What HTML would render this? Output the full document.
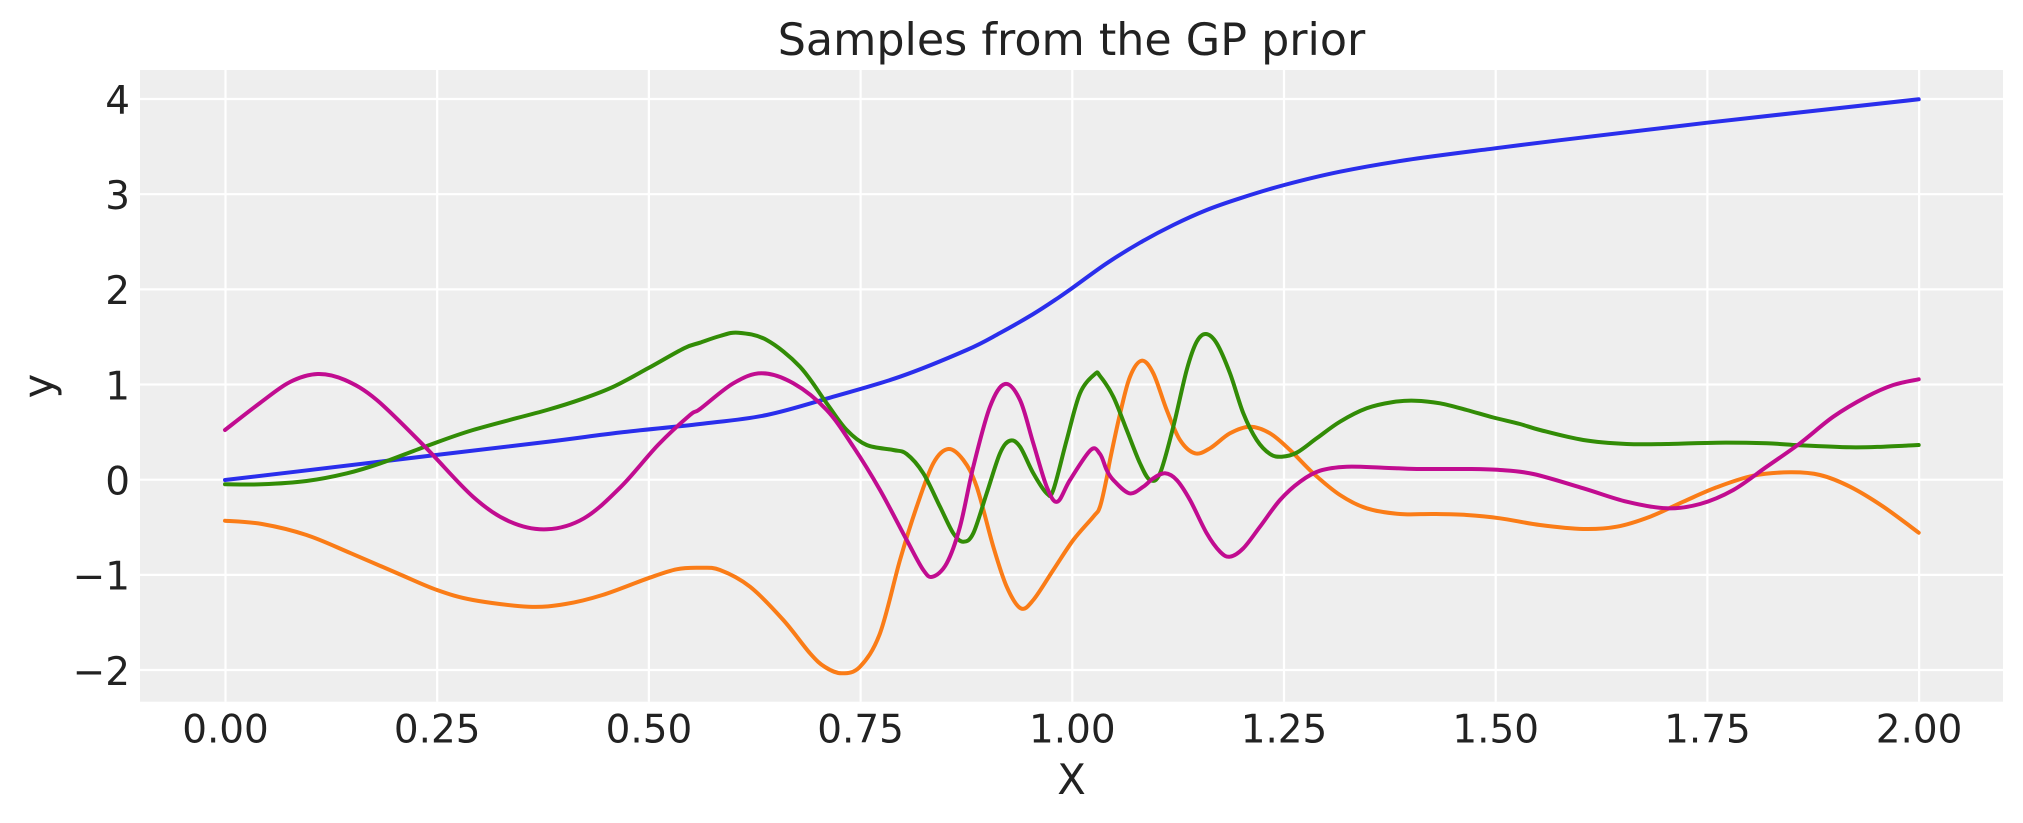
<!DOCTYPE html>
<html>
<head>
<meta charset="utf-8">
<style>
  html, body { margin:0; padding:0; background:#ffffff; }
  svg { display:block; }
  text { font-family: "DejaVu Sans", "Liberation Sans", sans-serif; fill:#222222; }
</style>
</head>
<body>
<svg id="chart" width="2023" height="823" viewBox="0 0 2023 823" xmlns="http://www.w3.org/2000/svg">
  <rect x="0" y="0" width="2023" height="823" fill="#ffffff"/>
  <!-- plot area -->
  <rect x="140" y="70" width="1863" height="631.7" fill="#eeeeee"/>
  <!-- grid -->
  <g stroke="#ffffff" stroke-width="2.2">
    <line x1="225.5" y1="70" x2="225.5" y2="701.7"/>
    <line x1="437.2" y1="70" x2="437.2" y2="701.7"/>
    <line x1="648.9" y1="70" x2="648.9" y2="701.7"/>
    <line x1="860.6" y1="70" x2="860.6" y2="701.7"/>
    <line x1="1072.3" y1="70" x2="1072.3" y2="701.7"/>
    <line x1="1284.0" y1="70" x2="1284.0" y2="701.7"/>
    <line x1="1495.7" y1="70" x2="1495.7" y2="701.7"/>
    <line x1="1707.4" y1="70" x2="1707.4" y2="701.7"/>
    <line x1="1919.1" y1="70" x2="1919.1" y2="701.7"/>
    <line x1="140" y1="99.0" x2="2003" y2="99.0"/>
    <line x1="140" y1="194.2" x2="2003" y2="194.2"/>
    <line x1="140" y1="289.4" x2="2003" y2="289.4"/>
    <line x1="140" y1="384.5" x2="2003" y2="384.5"/>
    <line x1="140" y1="479.7" x2="2003" y2="479.7"/>
    <line x1="140" y1="574.9" x2="2003" y2="574.9"/>
    <line x1="140" y1="670.0" x2="2003" y2="670.0"/>
  </g>

  <g id="series" fill="none" stroke-width="4" stroke-linejoin="round" stroke-linecap="round">
    <!-- blue -->
    <polyline stroke="#2a2eec" points="225,480 300,471.2 436,455 550,441.5 620,432.5 700,424 766.7,415 833.3,396.7 900,376.7 966.7,350 1000,333 1033.3,314 1058,298 1072.3,288 1106.7,263.3 1140,242.7 1173.3,225 1206.7,210 1240,198.3 1284.3,185 1340,171.7 1406.7,160 1495,148.3 1560,140.2 1707.3,122.7 1918.7,99.3"/>
    <!-- orange -->
    <polyline stroke="#fa7c17" points="225,520.7 262,524 306.5,535 351,553.3 399,574 437,590 473,600 528.5,606.7 565.5,604 602.5,595 648,578.3 676.5,569.3 700,567.8 720,570 750,586.7 783.3,620 810,653.3 825,667 841.7,673.3 860,666.7 880,633.3 900,560 916.7,506.7 933.3,463.3 948.3,449 963.3,460 976.7,486.7 993.3,546.7 1006.7,586.7 1020.7,608.3 1033.3,600 1053.3,570 1073.3,540 1093.3,516.7 1100,506.7 1106.7,478 1110,460 1120,414 1130,376.7 1141.7,360.7 1153.3,373.3 1166.7,410 1180,440 1195,453.3 1210,448.3 1230,433.3 1250,426.7 1270,433.3 1290,450 1313.3,473.3 1340,495 1366.7,508.3 1400,514 1433.3,514 1466.7,515 1500,518.3 1540,525 1583.3,529 1616.7,526.7 1650,516.7 1683.3,501.7 1716.7,487.3 1753.3,475.7 1790,472.3 1820,475 1850,486.7 1883.3,506.7 1918.7,532.7"/>
    <!-- green -->
    <polyline stroke="#328c06" points="225,484.3 262,484.3 306.5,481 347,473.3 380.5,463.3 425,446.7 473,430 547,410 584,398.3 613.5,386.7 648,368.3 684,348.3 700,342.7 720,336 738.3,332.7 766.7,340 800,366.7 826.7,403.3 846.7,430 866.7,445 893.3,450 906.7,454 923.3,473.3 940,506.7 953.3,533.3 963.3,541.7 973.3,533.3 986.7,493.3 1000,453.3 1010,440.7 1020,446.7 1033.3,473.3 1046.7,493.3 1053.3,490 1066.7,440 1080,393.3 1095,374 1100,376 1113.3,396.7 1126.7,430 1140,463.3 1150,480 1160,473.3 1173.3,426.7 1186.7,370 1196.7,341.7 1206,334 1216.7,343.3 1230,373.3 1243.3,413.3 1256.7,440 1270,454 1281.7,456.7 1296.7,452.7 1316.7,438.3 1340,421.7 1366.7,408.3 1393.3,402 1415,400.7 1440,403.3 1466.7,410 1493.3,417.5 1520,424 1540,430 1583.3,440 1626.7,444 1666.7,444 1716.7,442.7 1766.7,443.3 1800,445.3 1850,447.3 1883.3,446.7 1918.7,445"/>
    <!-- magenta -->
    <polyline stroke="#c10c90" points="225,430 260,403 290,382 317.6,374 345,380 376.8,400 424.9,446.7 473,496.7 510,521.7 547,529.3 584,518.3 621,486.7 658,445 690,415 700,409 733.3,383.3 761.7,373.3 793.3,383.3 826.7,410 853.3,446.7 880,490 906.7,540 923.3,570 932.7,576.7 946.7,563.3 960,526.7 973.3,466.7 990,406.7 1005,384 1020,400 1033.3,443.3 1046.7,486.7 1057.3,501.7 1070,480 1090.7,450 1100,454 1106.7,470 1113.3,480 1129.3,493.3 1143.3,486.7 1153.3,478.3 1165,473.3 1176.7,480 1190,500 1206.7,533.3 1220,551.7 1230,556.7 1243.3,548.3 1260,526.7 1280,500 1300,481.7 1320,470.7 1346.7,466.7 1383.3,467.7 1416.7,469 1466.7,469 1500,470 1533.3,474 1583.3,488.3 1626.7,501.7 1666.7,508.3 1700,504 1733.3,490 1766.7,466.7 1800,443.3 1833.3,416.7 1866.7,396.7 1893.3,385 1918.7,379.3"/>
  </g>

  <!-- y tick labels -->
  <g font-size="38.9" text-anchor="end">
    <text x="130" y="113.8">4</text>
    <text x="130" y="209.0">3</text>
    <text x="130" y="304.2">2</text>
    <text x="130" y="399.3">1</text>
    <text x="130" y="494.5">0</text>
    <text x="130" y="589.7">−1</text>
    <text x="130" y="684.8">−2</text>
  </g>
  <!-- x tick labels -->
  <g font-size="38.9" text-anchor="middle">
    <text x="225.5" y="742.7">0.00</text>
    <text x="437.2" y="742.7">0.25</text>
    <text x="648.9" y="742.7">0.50</text>
    <text x="860.6" y="742.7">0.75</text>
    <text x="1072.3" y="742.7">1.00</text>
    <text x="1284.0" y="742.7">1.25</text>
    <text x="1495.7" y="742.7">1.50</text>
    <text x="1707.4" y="742.7">1.75</text>
    <text x="1919.1" y="742.7">2.00</text>
  </g>
  <!-- axis labels -->
  <text x="1071.5" y="794" font-size="41.7" text-anchor="middle">X</text>
  <text transform="translate(53,386) rotate(-90)" font-size="41.7" text-anchor="middle">y</text>
  <!-- title -->
  <text x="1071.5" y="55" font-size="44.4" text-anchor="middle">Samples from the GP prior</text>
</svg>
<script>
(function(){
  try {
    var NS = "http://www.w3.org/2000/svg";
    var g = document.getElementById("series");
    var lines = Array.prototype.slice.call(g.getElementsByTagName("polyline"));
    lines.forEach(function(pl){
      var raw = pl.getAttribute("points").trim().split(/\s+/);
      var p = raw.map(function(s){ var a = s.split(","); return [parseFloat(a[0]), parseFloat(a[1])]; });
      if (p.length < 3) return;
      var d = "M" + p[0][0] + "," + p[0][1];
      for (var i = 0; i < p.length - 1; i++) {
        var p0 = p[i > 0 ? i - 1 : i], p1 = p[i], p2 = p[i + 1], p3 = p[i + 2 < p.length ? i + 2 : i + 1];
        var c1x = p1[0] + (p2[0] - p0[0]) / 6, c1y = p1[1] + (p2[1] - p0[1]) / 6;
        var c2x = p2[0] - (p3[0] - p1[0]) / 6, c2y = p2[1] - (p3[1] - p1[1]) / 6;
        d += " C" + c1x.toFixed(2) + "," + c1y.toFixed(2) + " " + c2x.toFixed(2) + "," + c2y.toFixed(2) + " " + p2[0] + "," + p2[1];
      }
      var path = document.createElementNS(NS, "path");
      path.setAttribute("d", d);
      path.setAttribute("stroke", pl.getAttribute("stroke"));
      g.insertBefore(path, pl);
      g.removeChild(pl);
    });
  } catch (e) {}
})();
</script>
</body>
</html>
